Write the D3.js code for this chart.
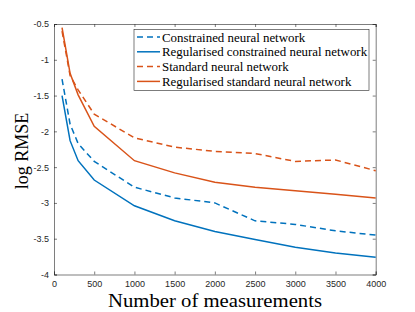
<!DOCTYPE html>
<html>
<head>
<meta charset="utf-8">
<script src="https://cdn.jsdelivr.net/npm/d3@7"></script>
<style>
  body { margin: 0; background: #fff; }
  .tick text { font-family: "Liberation Sans", Arial, sans-serif; font-size: 9px; fill: #262626; }
  .axis path, .axis line { stroke: #262626; stroke-width: 0.6; }
</style>
</head>
<body>
<svg id="chart" width="415" height="312"></svg>
<script>
// data
const measurements = [100, 200, 300, 500, 1000, 1500, 2000, 2500, 3000, 3500, 4000];
const constrained = [-1.27, -1.9, -2.17, -2.42, -2.78, -2.93, -3.0, -3.25, -3.30, -3.39, -3.45];
const regConstrained = [-1.5, -2.13, -2.41, -2.68, -3.04, -3.25, -3.40, -3.51, -3.62, -3.70, -3.76];
const standard = [-0.6, -1.22, -1.42, -1.76, -2.09, -2.22, -2.28, -2.31, -2.42, -2.40, -2.55];
const regStandard = [-0.55, -1.19, -1.49, -1.93, -2.41, -2.58, -2.71, -2.78, -2.83, -2.88, -2.93];

const seriesNames = [
  "Constrained neural network",
  "Regularised constrained neural network",
  "Standard neural network",
  "Regularised standard neural network"
];
const xTicks = [0, 500, 1000, 1500, 2000, 2500, 3000, 3500, 4000];
const yTicks = [-4, -3.5, -3, -2.5, -2, -1.5, -1, -0.5];

const blue = "#0072BD";
const orange = "#D95319";

// series table built from the arrays
let series = [
  { name: seriesNames[0], values: constrained, color: blue, dash: "6,4" },
  { name: seriesNames[1], values: regConstrained, color: blue, dash: null },
  { name: seriesNames[2], values: standard, color: orange, dash: "6,4" },
  { name: seriesNames[3], values: regStandard, color: orange, dash: null }
];

let margin = { left: 54, top: 24 };
let width = 321.7, height = 250.5;

let svg = d3.select("#chart");
let g = svg.append("g").attr("transform", "translate(" + margin.left + "," + margin.top + ")");

let xScale = d3.scaleLinear().domain([0, 4000]).range([0, width]);
let yScale = d3.scaleLinear().domain([-4, -0.5]).range([height, 0]);

// axes, ticks pointing inward like matlab
g.append("g")
  .attr("class", "axis")
  .attr("transform", "translate(0," + height + ")")
  .call(d3.axisBottom(xScale).tickValues(xTicks).tickSize(-3).tickPadding(6.5).tickFormat(d3.format("d")));
g.append("g")
  .attr("class", "axis")
  .call(d3.axisLeft(yScale).tickValues(yTicks).tickSize(-3).tickPadding(5).tickFormat(d => d));
g.append("g")
  .attr("class", "axis")
  .call(d3.axisTop(xScale).tickValues(xTicks).tickSize(-3).tickFormat(""));
g.append("g")
  .attr("class", "axis")
  .attr("transform", "translate(" + width + ",0)")
  .call(d3.axisRight(yScale).tickValues(yTicks).tickSize(-3).tickFormat(""));

// lines
let lineGen = d3.line()
  .x((d, i) => xScale(measurements[i]))
  .y(d => yScale(d));

g.selectAll("path.series")
  .data(series)
  .join("path")
  .attr("class", "series")
  .attr("d", d => lineGen(d.values))
  .attr("fill", "none")
  .attr("stroke", d => d.color)
  .attr("stroke-width", 1.5)
  .attr("stroke-dasharray", d => d.dash);

// legend
let legend = svg.append("g").attr("transform", "translate(134,29.5)");
legend.append("rect")
  .attr("width", 235)
  .attr("height", 61)
  .attr("fill", "#fff")
  .attr("stroke", "#262626")
  .attr("stroke-width", 0.6);
let items = legend.selectAll("g.item")
  .data(series)
  .join("g")
  .attr("class", "item")
  .attr("transform", (d, i) => "translate(0," + (7.5 + i * 14.8) + ")");
items.append("line")
  .attr("x1", 3).attr("x2", 26)
  .attr("stroke", d => d.color)
  .attr("stroke-width", 1.5)
  .attr("stroke-dasharray", d => d.dash);
items.append("text")
  .attr("x", 28)
  .attr("dy", "0.35em")
  .attr("font-family", "Liberation Serif, serif")
  .attr("font-size", 12.9)
  .attr("fill", "#000")
  .text(d => d.name);

// axis titles
svg.append("text")
  .attr("x", 215)
  .attr("y", 307)
  .attr("text-anchor", "middle")
  .attr("font-family", "Liberation Serif, serif")
  .attr("font-size", 19.5)
  .attr("textLength", 214)
  .attr("lengthAdjust", "spacingAndGlyphs")
  .text("Number of measurements");
svg.append("text")
  .attr("transform", "translate(27.5,151) rotate(-90)")
  .attr("text-anchor", "middle")
  .attr("font-family", "Liberation Serif, serif")
  .attr("font-size", 18)
  .text("log RMSE");
</script>
</body>
</html>
